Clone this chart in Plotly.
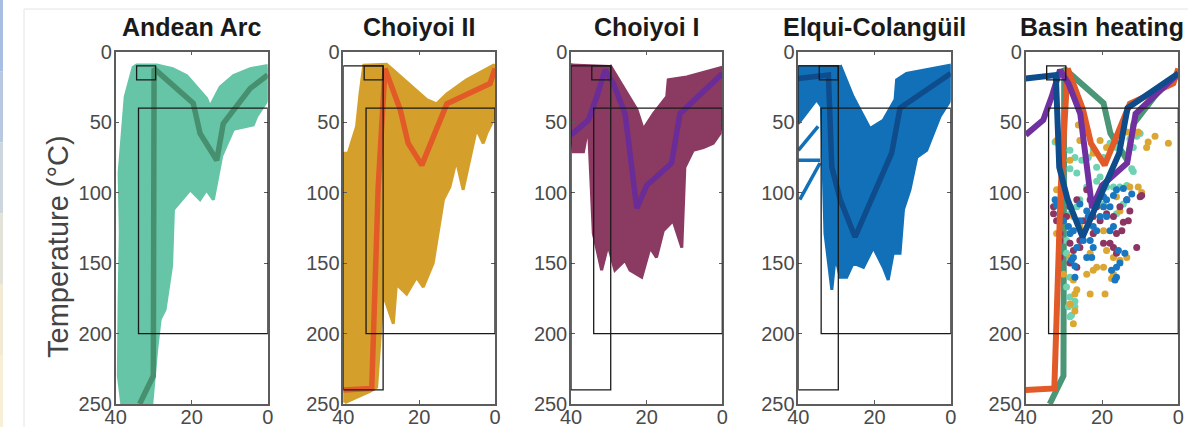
import plotly.graph_objects as go

W, H = 1188, 427

titles = ["Andean Arc", "Choiyoi II", "Choiyoi I", "Elqui-Colangüil", "Basin heating"]
x_ticks = [40, 20, 0]
y_ticks = [0, 50, 100, 150, 200, 250]

# ---- envelopes of accepted thermal paths (time Ma, temperature °C) ----
arc_env_t = [38.4, 39.3, 39.1, 38.8, 39.1, 38.0, 37.5, 35.4, 34.5, 29.2, 25.0, 21.3, 16.1, 15.2, 12.5, 9.0, 4.6, 0.3, 0.0,
             0.0, 2.9, 3.8, 9.0, 12.1, 14.3, 16.1, 17.8, 20.4, 24.8, 25.3, 27.0, 28.3, 29.2, 30.5]
arc_env_T = [250, 230, 176, 128, 86, 46, 32, 11, 9.5, 9.5, 12, 17, 33, 39, 25, 17, 12, 10, 12,
             34, 46, 52, 55, 74, 105, 98, 105, 98, 112, 152, 183, 190, 211, 250]

c2_env_t = [40.0, 40.0, 40.0, 38.7, 36.5, 35.6, 34.6, 28.6, 26.8, 18.0, 15.4, 12.7, 7.5, 0.4, 0.0,
            0.0, 2.2, 3.1, 4.9, 8.4, 10.2, 11.9, 13.6, 16.3, 18.9, 20.7, 23.3, 26.0, 26.8, 29.5, 31.2, 33.0, 39.6]
c2_env_T = [249, 238, 72, 72, 53, 30, 9.5, 9, 13, 34, 37, 30, 20, 9.5, 10,
            46, 58, 65, 55, 98, 77, 96, 105, 150, 167, 160, 172, 165, 193, 172, 238, 241, 249]

c1_env_t = [40.0, 40.0, 39.4, 36.7, 35.4, 34.1, 31.9, 30.2, 28.4, 25.7, 24.4, 21.3, 19.1, 17.4, 15.6, 13.0, 10.7,
            9.9, 7.7, 5.0, 2.4, 0.6, 0.0, 0.0, 9.4, 14.3, 14.7, 18.2, 20.9, 22.6, 29.7]
c1_env_T = [8.3, 54.5, 71, 71, 52, 129, 155, 137, 155, 148, 155, 160, 139, 146, 127, 120, 139,
            82, 70, 68, 65, 58, 41, 11, 18, 20, 32, 44, 55, 41, 9.5]

elq_env_t = [40.0, 40.0, 35.2, 33.9, 33.0, 31.2, 30.3, 29.0, 27.3, 25.6, 22.9, 20.3, 17.7, 16.4, 15.1, 13.3, 12.4,
             10.7, 8.9, 6.3, 2.8, 0.0, 0.0, 11.6, 14.2, 14.6, 17.7, 21.2, 25.6, 29.0]
elq_env_T = [9.5, 51, 34, 39, 129, 169, 145, 160, 160, 150, 153, 139, 153, 162, 143, 143, 112,
             98, 75, 70, 46, 34, 9.5, 15.4, 20, 34, 48.6, 54.5, 32, 9.5]

# stray Elqui paths at the left edge
elq_stray1_t = [40.0, 34.8]
elq_stray1_T = [70, 53]
elq_stray2_t = [40.0, 34.3]
elq_stray2_T = [77, 77]
elq_stray3_t = [39.6, 34.3]
elq_stray3_T = [105, 79]

# ---- mean paths ----
arc_mean_t = [33.7, 30.1, 29.9, 19.6, 17.8, 13.4, 11.7, 4.6, 0.0]
arc_mean_T = [250, 230, 12, 36.5, 58, 77, 51, 26, 16.5]
c2_mean_t = [40.0, 32.5, 30.8, 29.0, 25.0, 22.9, 19.3, 12.7, 1.3, 0.0]
c2_mean_T = [240, 239, 96, 12, 41, 65, 80.5, 37, 22.5, 12]
c1_mean_t = [40.0, 35.4, 33.2, 31.0, 28.8, 25.7, 22.6, 20.0, 13.4, 11.2, 0.0]
c1_mean_T = [59, 48.5, 32, 13, 22.5, 44, 111, 95, 79, 44, 15.5]
elq_mean_t = [40.0, 32.1, 31.2, 29.0, 25.1, 15.5, 13.3, 0.0]
elq_mean_T = [19, 16.6, 82, 105, 131.5, 72, 40, 15.4]

# ---- constraint boxes [t_old, t_young, T_top, T_bottom] ----
box_small = [34.5, 29.5, 10, 20]
box_large = [34.0, 0.0, 40, 200]
box_tall = [40.0, 29.5, 10, 240]

# ---- peak-heating points (Basin heating panel) ----
arc_pk_t = [32.3, 31.0, 28.4, 27.1, 28.4, 26.6, 25.3, 23.6, 22.3, 21.4, 19.6, 17.9, 16.2, 12.7, 10.9, 10.0, 11.8,
            12.2, 11.8, 13.5, 15.3, 17.0, 18.8, 20.5, 21.4, 24.0, 25.8, 26.6, 28.4, 28.4, 29.3, 19.6, 16.2, 14.4,
            29.3, 28.4, 29.3, 28.4, 28.8, 28.4, 27.1, 27.1, 28.0]
arc_pk_T = [64, 68, 70, 75, 83, 86, 77, 75, 69, 82, 75, 65, 68, 62, 60, 58, 68,
            83, 85, 95, 96, 96, 96, 89, 92, 96, 105, 110, 115, 129, 134, 108, 115, 108,
            143, 160, 167, 174, 181, 188, 177, 181, 187]
c2_pk_t = [31.9, 31.0, 26.2, 25.8, 28.4, 24.0, 20.5, 22.3, 18.8, 13.5, 11.8, 10.5, 8.3, 7.9, 6.1, 2.6, 12.7,
           10.5, 9.6, 16.2, 15.3, 19.6, 31.9, 27.5, 25.8, 31.9, 22.3, 19.6, 18.8, 17.0, 15.3, 13.5, 23.1, 22.3,
           24.0, 28.4, 30.1, 27.5, 26.6, 27.1, 27.1, 28.4, 27.5, 23.1, 19.2, 21.4, 19.6, 17.0, 17.5]
c2_pk_T = [63, 72, 52, 63, 77, 57, 63, 72, 68, 57, 59, 57, 68, 64, 60, 65, 96,
           96, 100, 103, 113, 110, 98, 117, 124, 129, 129, 127, 141, 146, 148, 146, 143, 155,
           158, 146, 158, 162, 169, 172, 184, 179, 193, 172, 172, 153, 153, 158, 161]
c1_pk_t = [32.7, 32.7, 31.9, 31.0, 29.3, 28.4, 26.6, 24.0, 23.1, 21.4, 20.5, 18.8, 17.0, 15.3, 13.5, 12.7, 10.0,
           16.2, 14.8, 17.0, 17.9, 19.6, 22.3, 25.8, 27.5, 28.4, 26.6, 25.8, 24.9, 31.0, 31.0, 16.2, 10.9, 9.6,
           13.1, 14.4, 28.4, 22.3]
c1_pk_T = [110, 115, 120, 129, 117, 110, 105, 98, 105, 110, 120, 115, 117, 110, 105, 113, 103,
           129, 127, 139, 136, 136, 129, 134, 141, 150, 153, 139, 120, 134, 146, 143, 139, 102,
           120, 121, 136, 117]
elq_pk_t = [32.3, 31.9, 31.0, 30.1, 28.8, 28.4, 27.5, 25.8, 24.0, 21.4, 20.5, 19.6, 18.8, 17.0, 16.2, 14.4, 13.5,
            12.2, 17.9, 18.8, 20.5, 21.4, 22.3, 23.1, 24.9, 26.6, 27.5, 28.0, 27.1, 24.0, 22.7, 17.9, 17.0, 15.7,
            16.2, 15.3, 14.0, 27.1, 17.5, 16.2, 16.6, 19.6, 23.6, 22.3, 25.8]
elq_pk_T = [105, 109, 115, 120, 124, 129, 127, 120, 113, 108, 101, 103, 105, 102, 98, 97, 105,
            101, 110, 117, 117, 127, 124, 134, 134, 139, 146, 148, 152, 146, 146, 127, 124, 141,
            153, 150, 143, 160, 155, 160, 162, 110, 117, 139, 108]

# ---- styling ----
col_arc, col_c2, col_c1, col_elq = "#66c5a6", "#d4a02b", "#8b3a62", "#1170b8"
mean_arc, mean_c2, mean_c1, mean_elq = "#46906f", "#e25a28", "#6a2c96", "#0e4c8c"
dot_arc, dot_c2, dot_c1, dot_elq = "#6fd2b2", "#dca632", "#8c3462", "#1977c2"

x_px = [(115.7, 267.7), (343.3, 495.0), (571.0, 722.3), (798.3, 950.7), (1025.7, 1178.3)]
y_dom = [(H - 404.0) / H, (H - 51.7) / H]

fig = go.Figure()


def env(i, t, T, c, lw=3):
    fig.add_trace(go.Scatter(x=t, y=T, mode="lines", fill="toself", fillcolor=c,
                             line=dict(color=c, width=lw), xaxis=f"x{i}", yaxis=f"y{i}",
                             hoverinfo="skip", showlegend=False))


def path(i, t, T, c, lw):
    fig.add_trace(go.Scatter(x=t, y=T, mode="lines", line=dict(color=c, width=lw),
                             xaxis=f"x{i}", yaxis=f"y{i}", hoverinfo="skip", showlegend=False))


def dots(i, t, T, c):
    fig.add_trace(go.Scatter(x=t, y=T, mode="markers", marker=dict(color=c, size=7),
                             xaxis=f"x{i}", yaxis=f"y{i}", hoverinfo="skip", showlegend=False))


env(1, arc_env_t, arc_env_T, col_arc)
path(1, arc_mean_t, arc_mean_T, mean_arc, 5.5)

env(2, c2_env_t, c2_env_T, col_c2)
path(2, c2_mean_t, c2_mean_T, mean_c2, 5.5)

env(3, c1_env_t, c1_env_T, col_c1)
path(3, c1_mean_t, c1_mean_T, mean_c1, 5.5)

env(4, elq_env_t, elq_env_T, col_elq)
for st, sT in [(elq_stray1_t, elq_stray1_T), (elq_stray2_t, elq_stray2_T), (elq_stray3_t, elq_stray3_T)]:
    path(4, st, sT, col_elq, 3.5)
path(4, elq_mean_t, elq_mean_T, mean_elq, 5.5)

path(5, arc_mean_t, arc_mean_T, "#4a9676", 6)
dots(5, arc_pk_t, arc_pk_T, dot_arc)
dots(5, c2_pk_t, c2_pk_T, dot_c2)
dots(5, c1_pk_t, c1_pk_T, dot_c1)
dots(5, elq_pk_t, elq_pk_T, dot_elq)
path(5, c2_mean_t, c2_mean_T, mean_c2, 6)
path(5, c1_mean_t, c1_mean_T, "#7030a0", 6)
path(5, elq_mean_t, elq_mean_T, mean_elq, 6)

shapes = []
panel_boxes = {1: [box_small, box_large], 2: [box_tall, box_small, box_large],
               3: [box_tall, box_small, box_large], 4: [box_tall, box_small, box_large],
               5: [box_small, box_large]}
for i, boxes in panel_boxes.items():
    for b in boxes:
        shapes.append(dict(type="rect", xref=f"x{i}", yref=f"y{i}", x0=b[0], x1=b[1], y0=b[2], y1=b[3],
                           line=dict(color="#1a1a1a", width=1.3), fillcolor="rgba(0,0,0,0)", layer="above"))

# screenshot frame decoration
shapes.append(dict(type="line", xref="paper", yref="paper", x0=24 / W, x1=1, y0=(H - 9) / H, y1=(H - 9) / H,
                   line=dict(color="#e4e4e4", width=1)))
shapes.append(dict(type="line", xref="paper", yref="paper", x0=24 / W, x1=24 / W, y0=0, y1=(H - 9) / H,
                   line=dict(color="#e4e4e4", width=1)))
strip_cols = ["#a8bde2", "#b8c8e0", "#cdd6dc", "#e2e2d8", "#f2ead2", "#f7efd6"]
n = len(strip_cols)
for k, c in enumerate(strip_cols):
    shapes.append(dict(type="rect", xref="paper", yref="paper", x0=0, x1=3 / W,
                       y0=1 - (k + 1) / n, y1=1 - k / n, line=dict(width=0), fillcolor=c, layer="below"))

annotations = []
for i, (l, r) in enumerate(x_px):
    annotations.append(dict(text=f"<b>{titles[i]}</b>", x=(l + r) / 2 / W, y=(H - 27) / H, xref="paper",
                            yref="paper", showarrow=False, xanchor="center", yanchor="middle",
                            font=dict(family="Arial, Liberation Sans", size=25, color="#1a1a1a")))
annotations.append(dict(text="Temperature (°C)", x=58 / W, y=(H - 247) / H, xref="paper", yref="paper",
                        showarrow=False, textangle=-90, xanchor="center", yanchor="middle",
                        font=dict(family="Arial, Liberation Sans", size=29, color="#444444")))
# descender of a figure title that is cut off by the top edge
annotations.append(dict(text="<b>y</b>", x=606 / W, y=(H + 14) / H, xref="paper", yref="paper",
                        showarrow=False, xanchor="center", yanchor="middle",
                        font=dict(family="Arial, Liberation Sans", size=25, color="#1a1a1a")))

layout = dict(width=W, height=H, margin=dict(l=0, r=0, t=0, b=0, autoexpand=False), plot_bgcolor="white",
              paper_bgcolor="white", shapes=shapes, annotations=annotations, showlegend=False)
axis_common = dict(showline=True, linecolor="#5c5c5c", linewidth=1.5, mirror="ticks", ticks="inside",
                   ticklen=4, tickwidth=1.2, tickcolor="#5c5c5c", showgrid=False, zeroline=False,
                   tickfont=dict(family="Arial, Liberation Sans", size=20, color="#4a4a4a"), fixedrange=True)
for i, (l, r) in enumerate(x_px, start=1):
    layout[f"xaxis{i}"] = dict(domain=[l / W, r / W], range=[40, 0], tickvals=x_ticks, anchor=f"y{i}",
                               ticklabelstandoff=-6, **axis_common)
    layout[f"yaxis{i}"] = dict(domain=list(y_dom), range=[250, 0], tickvals=y_ticks, anchor=f"x{i}",
                               ticklabelstandoff=-2, **axis_common)
fig.update_layout(**layout)
fig.write_html("out.html")
